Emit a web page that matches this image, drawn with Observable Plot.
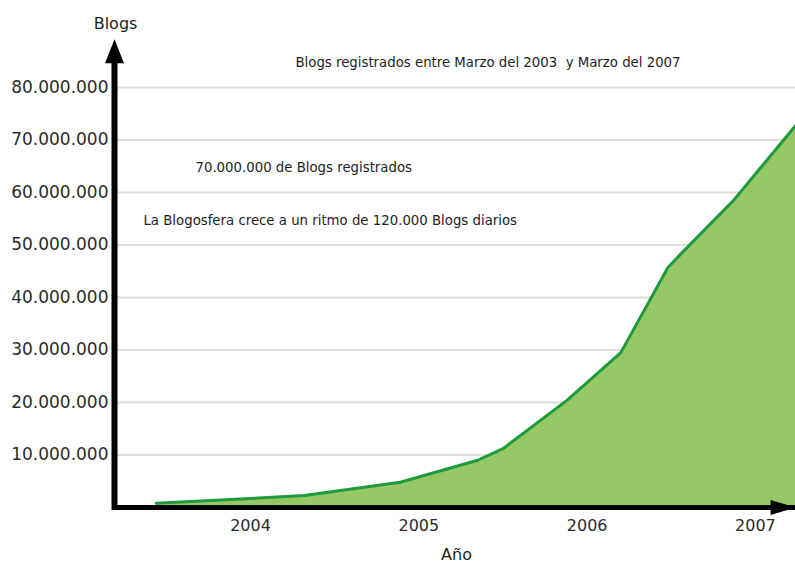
<!DOCTYPE html>
<html>
<head>
<meta charset="utf-8">
<script src="https://cdn.jsdelivr.net/npm/d3@7"></script>
<script src="https://cdn.jsdelivr.net/npm/@observablehq/plot@0.6"></script>
<style>
  html, body { margin: 0; padding: 0; background: #ffffff; }
  svg text { white-space: pre; }
</style>
</head>
<body>
<div id="chart"></div>
<script>
// Data (year as decimal, blogs registered)
const years = [2003.44, 2004.0, 2004.32, 2004.89, 2005.35, 2005.50, 2005.88, 2006.20, 2006.48, 2006.56, 2006.87, 2007.24];
const blogs = [0.8e6, 1.7e6, 2.3e6, 4.8e6, 9.0e6, 11.2e6, 20.4e6, 29.5e6, 45.7e6, 48.4e6, 58.5e6, 72.8e6];

const yTicks = [10e6, 20e6, 30e6, 40e6, 50e6, 60e6, 70e6, 80e6];
const xTicks = [2004, 2005, 2006, 2007];

const xDomain = [2003.192, 2007.238];
const yDomain = [0, 80e6];

const yTitle = "Blogs";
const xTitle = "Año";

const notes = [
  "Blogs registrados entre Marzo del 2003  y Marzo del 2007",
  "70.000.000 de Blogs registrados",
  "La Blogosfera crece a un ritmo de 120.000 Blogs diarios"
];
const noteX = [2004.267, 2003.673, 2003.364];
const noteY = [84.76e6, 64.76e6, 54.67e6];

const data = years.map((y, i) => ({year: y, blogs: blogs[i]}));
const noteData = notes.map((t, i) => ({text: t, x: noteX[i], y: noteY[i]}));

const fmt = d => d3.format(",")(d).replace(/,/g, ".");

const chart = Plot.plot({
  width: 795,
  height: 565,
  marginLeft: 114,
  marginRight: 0,
  marginTop: 87,
  marginBottom: 58,
  style: {fontFamily: "DejaVu Sans", background: "#ffffff", overflow: "visible", color: "#222"},
  x: {domain: xDomain},
  y: {domain: yDomain},
  marks: [
    Plot.ruleY(yTicks, {stroke: "#e2ddd8", strokeWidth: 2}),
    Plot.areaY(data, {x: "year", y: "blogs", fill: "#96c965"}),
    Plot.line(data, {x: "year", y: "blogs", stroke: "#1f9a3d", strokeWidth: 3}),
    Plot.ruleY([0], {stroke: "black", strokeWidth: 5}),
    Plot.ruleX([xDomain[0]], {y1: 0, y2: 84.6e6, stroke: "black", strokeWidth: 6, strokeLinecap: "square"}),
    Plot.vector([0], {x: xDomain[0], y: 84.6e6, length: 24, r: 9.5, rotate: 0, shape: "spike", anchor: "start", fill: "black", stroke: "none"}),
    Plot.vector([0], {x: 2007.09, y: 0, length: 25, r: 7.5, rotate: 90, shape: "spike", anchor: "start", fill: "black", stroke: "none"}),
    Plot.axisY({ticks: yTicks, tickFormat: fmt, tickSize: 0, tickPadding: 6, fontSize: 17, fill: "#2b2b2b", label: null}),
    Plot.axisX({ticks: xTicks, tickFormat: d => String(d), tickSize: 0, tickPadding: 12, fontSize: 16, fill: "#2b2b2b", label: null}),
    Plot.text([yTitle], {x: xDomain[0] + 0.006, y: 92.19e6, text: d => d, fontSize: 16, fill: "#1e1e1e"}),
    Plot.text([xTitle], {x: 2005.224, y: -9.0e6, text: d => d, fontSize: 16, fill: "#1e1e1e"}),
    Plot.text(noteData, {x: "x", y: "y", text: "text", textAnchor: "start", fontSize: 13.3, fill: "#1e1e1e"})
  ]
});
document.getElementById("chart").appendChild(chart);
</script>
</body>
</html>
